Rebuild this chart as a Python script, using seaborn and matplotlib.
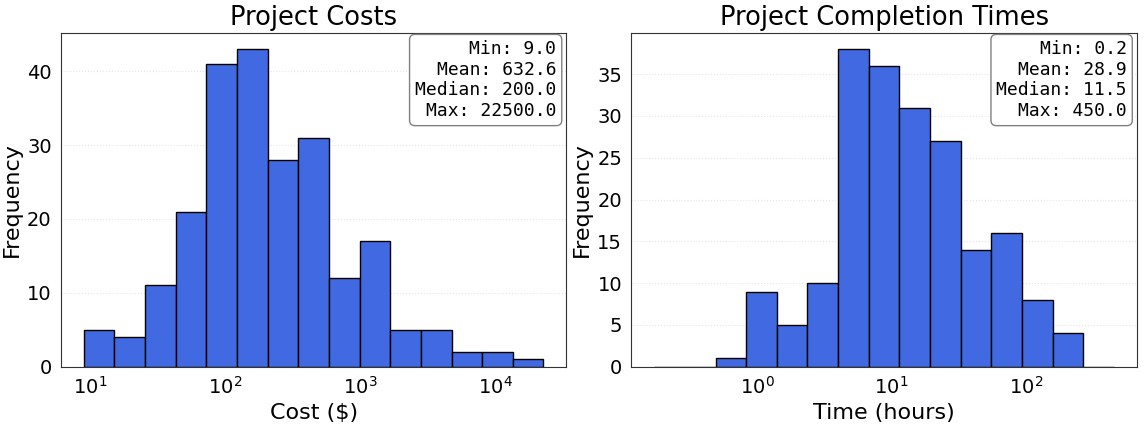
import numpy as np
import pandas as pd
import seaborn as sns
import matplotlib.pyplot as plt

sns.set_style("white")
plt.rcParams.update({"text.color": "black", "axes.labelcolor": "black",
                     "xtick.color": "black", "ytick.color": "black"})

# Project costs histogram (log bins), counts
cost_bin_min, cost_bin_max = 9.0, 22500.0
cost_counts = [5, 4, 11, 21, 41, 43, 28, 31, 12, 17, 5, 5, 2, 2, 1]
cost_stats = {"Min": 9.0, "Mean": 632.6, "Median": 200.0, "Max": 22500.0}

# Completion times histogram (log bins)
time_bin_min, time_bin_max = 0.172, 450.0
time_counts = [0, 0, 1, 9, 5, 10, 38, 36, 31, 27, 14, 16, 8, 4, 0]
time_stats = {"Min": 0.2, "Mean": 28.9, "Median": 11.5, "Max": 450.0}


def draw_hist(ax, lo, hi, counts, stats, title, xlabel):
    n = len(counts)
    lo_l, hi_l = np.log10(lo), np.log10(hi)
    edges = np.linspace(lo_l, hi_l, n + 1)
    df = pd.DataFrame({"x": 10 ** ((edges[:-1] + edges[1:]) / 2),
                       "w": np.asarray(counts, dtype=float)})
    sns.histplot(data=df, x="x", weights="w", bins=n, binrange=(lo_l, hi_l),
                 log_scale=True, color="royalblue", edgecolor="black",
                 alpha=1, ax=ax)
    ax.set_title(title, fontsize=18.5)
    ax.set_xlabel(xlabel, fontsize=16)
    ax.set_ylabel("Frequency", fontsize=16)
    ax.tick_params(labelsize=14, length=3)
    ax.tick_params(axis="x", which="minor", length=2, width=0.6)
    ax.grid(axis="y", linestyle=":", alpha=0.5)
    for s in ax.spines.values():
        s.set_color("#333333")
    txt = "\n".join(f"{k}: {v:.1f}" for k, v in stats.items())
    ax.text(0.98, 0.98, txt, transform=ax.transAxes, ha="right", va="top",
            fontsize=13, family="monospace",
            bbox=dict(boxstyle="round", facecolor="white", edgecolor="gray"))


fig, axes = plt.subplots(1, 2, figsize=(11.45, 4.25), dpi=100)
draw_hist(axes[0], cost_bin_min, cost_bin_max, cost_counts, cost_stats,
          "Project Costs", "Cost ($)")
draw_hist(axes[1], time_bin_min, time_bin_max, time_counts, time_stats,
          "Project Completion Times", "Time (hours)")
plt.subplots_adjust(left=0.053, right=0.993, top=0.922, bottom=0.137,
                    wspace=0.128)
plt.savefig("out.png", dpi=100)
